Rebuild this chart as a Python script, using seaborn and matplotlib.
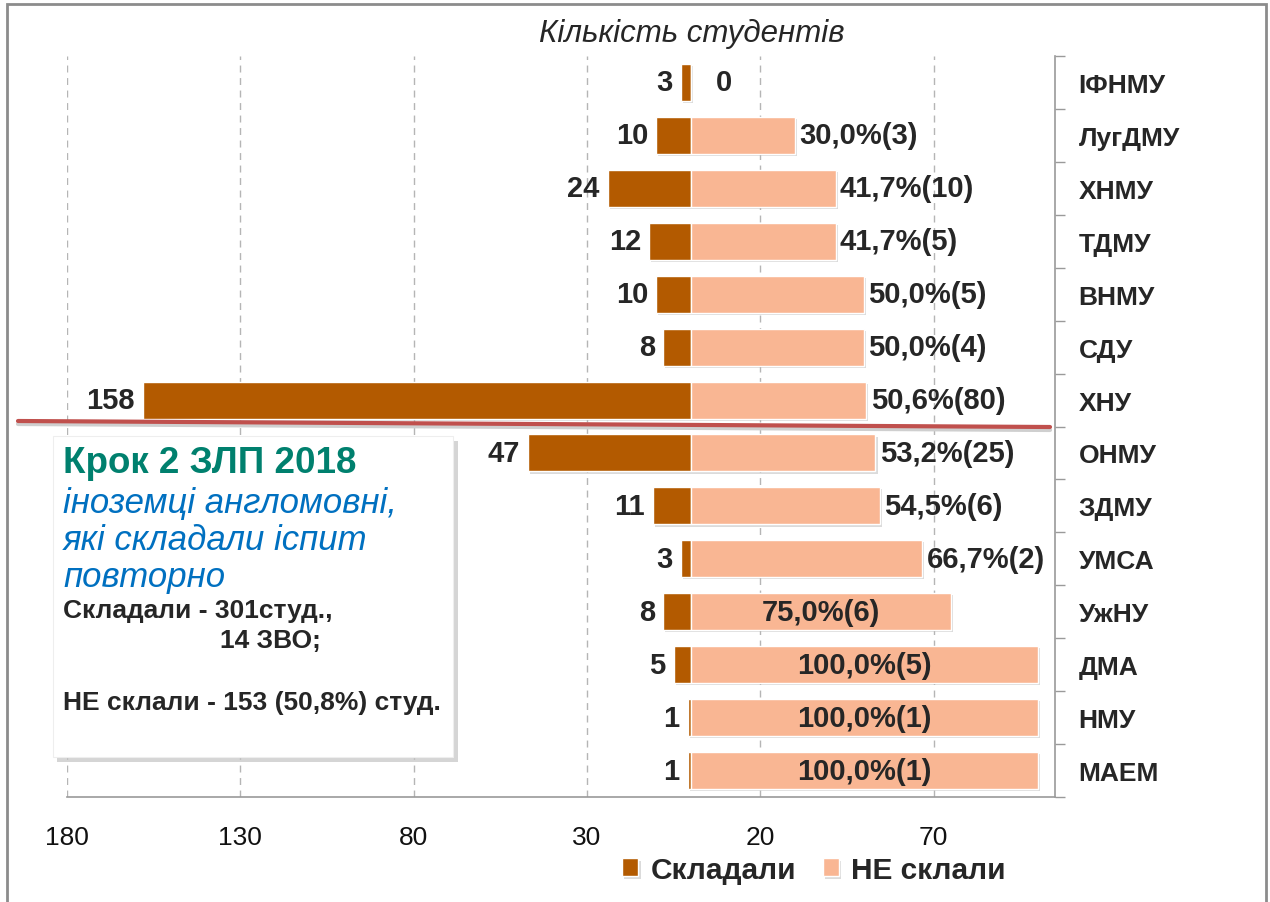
import matplotlib
matplotlib.use("Agg")
import matplotlib.pyplot as plt
import matplotlib.patheffects as pe
from matplotlib.lines import Line2D
from matplotlib.patches import Rectangle
from matplotlib.ticker import FixedLocator, FuncFormatter
import pandas as pd
import seaborn as sns

# data
universities = ["ІФНМУ", "ЛугДМУ", "ХНМУ", "ТДМУ", "ВНМУ", "СДУ", "ХНУ",
                "ОНМУ", "ЗДМУ", "УМСА", "УжНУ", "ДМА", "НМУ", "МАЕМ"]
took = [3, 10, 24, 12, 10, 8, 158, 47, 11, 3, 8, 5, 1, 1]
failed = [0, 3, 10, 5, 5, 4, 80, 25, 6, 2, 6, 5, 1, 1]
failed_pct = [0.0, 30.0, 41.7, 41.7, 50.0, 50.0, 50.6, 53.2, 54.5, 66.7,
              75.0, 100.0, 100.0, 100.0]
x_ticks = [-180, -130, -80, -30, 20, 70]

BROWN = "#B35A00"
SALMON = "#F9B693"
GREY = "#9a9a9a"
W, H = 1270, 903


def px(x, y):
    return x / W, 1 - y / H


sns.set_style("white")
plt.rcParams["font.family"] = ["Liberation Sans", "DejaVu Sans"]

df = pd.concat([
    pd.DataFrame({"ЗВО": universities, "value": [-v for v in took], "series": "Складали"}),
    pd.DataFrame({"ЗВО": universities, "value": failed_pct, "series": "НЕ склали"}),
])

fig = plt.figure(figsize=(W / 100, H / 100), dpi=100)
ax = fig.add_axes([67 / W, 1 - 798 / H, (1055 - 67) / W, (798 - 57) / H])

sns.barplot(data=df, x="value", y="ЗВО", hue="series", dodge=False,
            palette=[BROWN, SALMON], saturation=1, width=0.7, orient="h",
            edgecolor="white", linewidth=1.0, ax=ax)

handles, labels = ax.get_legend_handles_labels()
ax.get_legend().remove()

# soft shadow under the bars
for bar in ax.patches:
    bar.set_path_effects([pe.SimplePatchShadow(offset=(1.5, -1.5), shadow_rgbFace="#999999",
                                               alpha=0.35), pe.Normal()])

ax.set_xlim(-180, 105)
ax.set_xlabel("")
ax.set_ylabel("")
ax.set_axisbelow(True)
ax.xaxis.set_major_locator(FixedLocator(x_ticks))
ax.xaxis.set_major_formatter(FuncFormatter(lambda v, p: f"{abs(v):.0f}"))
ax.grid(axis="x", color="#b5b5b5", linestyle=(0, (5, 4)), linewidth=1)
ax.tick_params(axis="x", direction="out", length=6, width=1, color=GREY,
               labelsize=19, pad=14, labelcolor="#111111")

# categories on the right side, ticks at the boundaries
ax.yaxis.tick_right()
n = len(universities)
ax.yaxis.set_major_locator(FixedLocator([i - 0.5 for i in range(n + 1)]))
ax.yaxis.set_major_formatter(FuncFormatter(lambda v, p: ""))
ax.yaxis.set_minor_locator(FixedLocator(list(range(n))))
ax.yaxis.set_minor_formatter(FuncFormatter(lambda v, p: universities[int(round(v))]))
ax.tick_params(axis="y", which="major", direction="out", length=7, width=1, color=GREY)
ax.tick_params(axis="y", which="minor", length=0, pad=17, labelsize=19)
for t in ax.get_yticklabels(minor=True):
    t.set_fontweight("bold")
ax.set_ylim(n - 0.5, -0.5)

for side in ["left", "top"]:
    ax.spines[side].set_visible(False)
for side in ["bottom", "right"]:
    ax.spines[side].set_color(GREY)
    ax.spines[side].set_linewidth(1.2)

# value labels
for i in range(n):
    ax.annotate(str(took[i]), (-took[i], i), xytext=(-6, 0), textcoords="offset points",
                ha="right", va="center", fontsize=21, fontweight="bold")
    if failed[i] == 0:
        txt = "0"
    else:
        txt = f"{failed_pct[i]:.1f}%({failed[i]})".replace(".", ",")
    if failed_pct[i] >= 75:
        ax.text(failed_pct[i] / 2, i, txt, ha="center", va="center",
                fontsize=21, fontweight="bold")
    else:
        off = 18 if failed[i] == 0 else 3
        ax.annotate(txt, (failed_pct[i], i), xytext=(off, 0), textcoords="offset points",
                    ha="left", va="center", fontsize=21, fontweight="bold")

# title
fig.text(*px(692, 42), "Кількість студентів", ha="center", va="baseline",
         fontsize=22.5, fontstyle="italic")

# legend
fig.legend(handles, labels, loc="center", bbox_to_anchor=px(814, 871), ncol=2,
           frameon=False, handlelength=0.55, handleheight=0.55,
           handletextpad=0.4, columnspacing=0.9, prop={"weight": "bold", "size": 21.5})

# red divider line with a faint shadow
fig.add_artist(Line2D([18 / W, 1050 / W], [1 - 425 / H, 1 - 431 / H],
                      color="#cfcfcf", linewidth=3, zorder=5))
fig.add_artist(Line2D([18 / W, 1050 / W], [1 - 422 / H, 1 - 428 / H],
                      color="#C0504D", linewidth=3, zorder=6))

# annotation box
fig.add_artist(Rectangle(px(57, 763), 401 / W, 321 / H, facecolor="#c4c4c4",
                         edgecolor="none", alpha=0.7, zorder=7))
fig.add_artist(Rectangle(px(53, 758), 400 / W, 321 / H, facecolor="white",
                         edgecolor="#eeeeee", linewidth=0.8, zorder=8))
fig.text(*px(63, 473), "Крок 2 ЗЛП 2018", fontsize=26.5, fontweight="bold",
         color="#00806E", zorder=9)
fig.text(*px(63, 513), "іноземці англомовні,", fontsize=25, fontstyle="italic",
         color="#0070C0", zorder=9)
fig.text(*px(63, 550), "які складали іспит", fontsize=25, fontstyle="italic",
         color="#0070C0", zorder=9)
fig.text(*px(63, 587), "повторно", fontsize=25, fontstyle="italic",
         color="#0070C0", zorder=9)
fig.text(*px(63, 618), "Складали - 301студ.,", fontsize=19, fontweight="bold", zorder=9)
fig.text(*px(220, 648), "14 ЗВО;", fontsize=19, fontweight="bold", zorder=9)
fig.text(*px(63, 710), "НЕ склали - 153 (50,8%) студ.", fontsize=19,
         fontweight="bold", zorder=9)

# outer frame
fig.add_artist(Rectangle(px(7, 915), (1266 - 7) / W, 910 / H, facecolor="none",
                         edgecolor="#8c8c8c", linewidth=2, zorder=10))

fig.savefig("out.png", dpi=100)
